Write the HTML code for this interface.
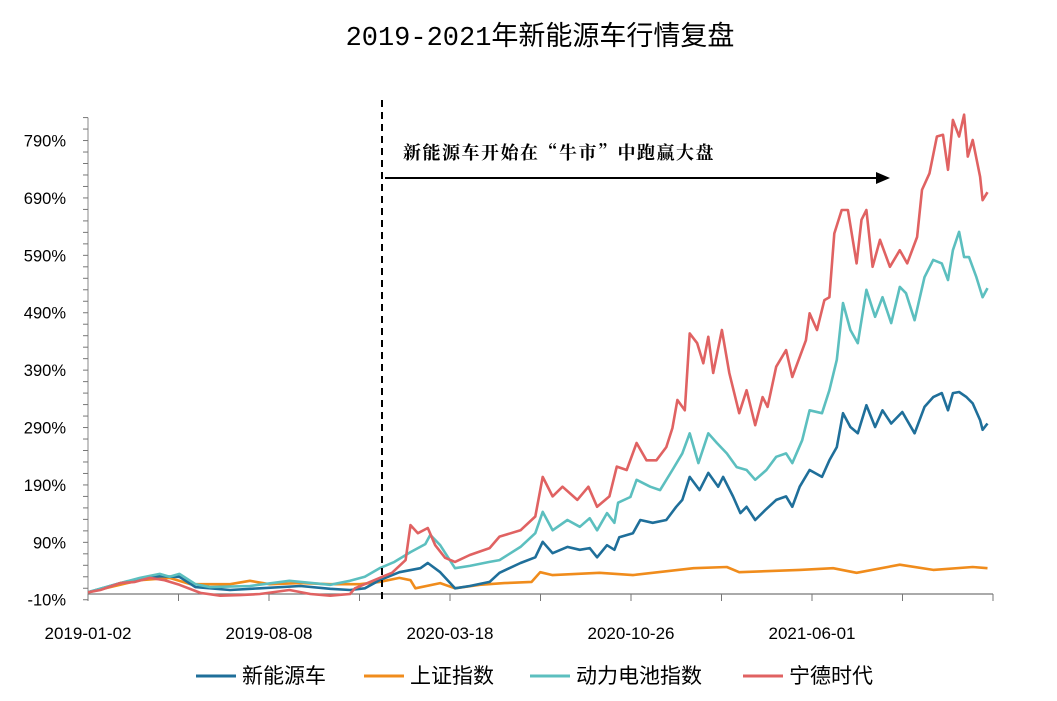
<!DOCTYPE html>
<html><head><meta charset="utf-8"><style>
body{margin:0;background:#fff;}
svg{display:block;font-family:"Liberation Sans","Noto Sans CJK SC",sans-serif;}
</style></head><body>
<svg id="chart" width="1057" height="701" viewBox="0 0 1057 701">
<text x="540" y="45" text-anchor="middle" font-size="27" fill="#000" font-family="Liberation Mono,Noto Sans CJK SC,sans-serif">2019-2021年新能源车行情复盘</text>
<g id="axes"></g>
<g id="series"></g>
<line x1="382" y1="100" x2="382" y2="600" stroke="#000" stroke-width="2" stroke-dasharray="7,5"/>
<line x1="385" y1="178" x2="878" y2="178" stroke="#000" stroke-width="2"/>
<polygon points="890,178 876,172 876,184" fill="#000"/>
<text x="403" y="159" font-size="18" font-weight="bold" letter-spacing="1.5" font-family="Noto Serif CJK SC,serif" fill="#000">新能源车开始在“牛市”中跑赢大盘</text>
<g id="legend"></g>
</svg>
<script>
const yTicks=[-10,90,190,290,390,490,590,690,790];
const xTickLabels=["2019-01-02","2019-08-08","2020-03-18","2020-10-26","2021-06-01"];
const seriesNames=["新能源车","上证指数","动力电池指数","宁德时代"];
const seriesColors=["#1f6f9a","#f08c1c","#5cbfbf","#e06262"];
const nevDays=[0,26,42,58,70,74,87,115,139,172,196,212,224,236,252,269,275,285,297,309,325,333,350,362,368,376,388,398,406,412,420,426,430,441,447,457,468,476,481,487,495,502,510,514,522,528,533,540,548,557,565,570,576,584,594,600,606,611,617,623,630,637,643,650,659,669,677,684,691,696,700,705,711,716,722,724,728];
const nevVals=[3,19,26,31,30,30,12,7,10,14,9,7,10,24,38,45,54,38,10,14,21,37,54,64,91,71,82,77,80,64,85,77,99,106,129,124,129,152,164,204,181,211,187,204,170,141,152,129,146,164,170,152,187,216,204,233,256,315,291,280,329,291,320,297,317,280,326,343,350,320,350,352,343,332,303,286,297];
const shDays=[0,42,66,83,115,131,147,172,196,220,236,252,261,265,285,297,317,337,359,366,376,414,441,490,517,527,576,603,622,657,684,716,728];
const shVals=[3,24,28,17,17,23,17,19,17,17,21,28,24,10,19,10,16,19,21,38,33,37,33,45,47,38,42,45,37,51,42,47,45];
const batDays=[0,26,42,58,66,74,87,99,131,163,196,212,224,236,248,261,273,277,285,297,309,325,333,350,362,368,376,388,398,406,412,420,426,429,439,444,455,463,473,481,487,494,502,509,517,525,533,540,549,557,565,570,578,584,594,600,606,611,617,623,630,637,643,650,657,662,669,677,684,691,696,700,705,709,713,719,724,728];
const batVals=[3,19,28,35,30,35,17,12,14,23,16,23,30,45,56,73,87,103,85,45,49,56,59,82,106,143,111,129,117,132,111,141,124,159,169,199,187,181,216,245,280,228,280,263,245,221,216,199,216,239,245,228,268,320,315,355,408,507,460,437,530,483,517,472,535,524,477,552,582,576,547,599,631,587,587,552,517,533];
const catlDays=[0,10,26,38,50,62,74,91,107,123,139,163,180,196,212,216,236,246,257,261,267,275,281,289,297,309,325,333,350,362,368,376,384,396,405,412,422,428,436,444,452,460,468,473,477,483,487,493,498,502,506,513,519,527,533,540,546,550,557,565,570,581,584,590,596,600,604,610,615,622,626,630,635,641,649,657,663,671,675,681,687,692,696,700,705,709,712,716,722,724,728];
const catlVals=[3,7,19,21,28,24,16,2,-3,-2,0,7,0,-3,0,10,28,37,59,120,106,115,85,63,56,68,80,100,111,135,204,170,187,164,187,152,170,222,216,263,233,233,256,289,338,320,454,437,402,448,385,460,385,315,355,294,343,326,396,425,378,442,489,460,512,517,628,669,669,576,652,669,570,617,570,599,576,622,704,733,797,800,739,826,797,835,762,791,727,686,700];
const X0=88,X1=990,DMAX=730,Y0=594,PX=0.574;
const xs=d=>X0+(d/DMAX)*(X1-X0);
const ys=v=>Y0-v*PX;
const NS="http://www.w3.org/2000/svg";
function mk(tag,attrs,parent){const e=document.createElementNS(NS,tag);for(const k in attrs)e.setAttribute(k,attrs[k]);parent.appendChild(e);return e;}
const axes=document.getElementById('axes');
let yl=mk('line',{x1:X0,y1:ys(-10),x2:X0,y2:ys(830),stroke:'#888','stroke-width':1},axes);


let xl=mk('line',{x1:X0,y1:Y0,x2:X1+3,y2:Y0,stroke:'#777','stroke-width':1.2},axes);


for(let v=-10;v<=830;v+=20){const t=mk('line',{x1:X0-5,y1:ys(v),x2:X0,y2:ys(v),stroke:'#777'},axes);

}
yTicks.forEach(v=>{const t=mk('text',{x:66,y:ys(v)+6,'text-anchor':'end','font-size':16.5,fill:'#000'},axes);t.textContent=v+'%';

});
const nT=10;
for(let i=0;i<=nT;i++){const x=X0+i*(X1-X0+3)/nT;const t=mk('line',{x1:x,y1:Y0,x2:x,y2:Y0+7,stroke:'#777'},axes);

}
xTickLabels.forEach((s,i)=>{const x=X0+i*2*(X1-X0+3)/nT;const t=mk('text',{x:x,y:639,'text-anchor':'middle','font-size':17,fill:'#000'},axes);t.textContent=s;

});
const ser=document.getElementById('series');
const all=[[nevDays,nevVals],[shDays,shVals],[batDays,batVals],[catlDays,catlVals]];
const order=[1,0,2,3];
const ids=['nev-line','sh-index-line','battery-index-line','catl-line'];
order.forEach(i=>{const [d,v]=all[i];const pts=d.map((dd,j)=>xs(dd).toFixed(1)+','+ys(v[j]).toFixed(1)).join(' ');
const p=mk('polyline',{points:pts,fill:'none',stroke:seriesColors[i],'stroke-width':2.6,'stroke-linejoin':'round'},ser);

});
const lg=document.getElementById('legend');
const lx=[196,364,530,743];
seriesNames.forEach((n,i)=>{const g=mk('g',{},lg);


mk('line',{x1:lx[i],y1:676,x2:lx[i]+40,y2:676,stroke:seriesColors[i],'stroke-width':3},g);
const t=mk('text',{x:lx[i]+46,y:683,'font-size':21,fill:'#000'},g);t.textContent=n;});
</script>
</body></html>
